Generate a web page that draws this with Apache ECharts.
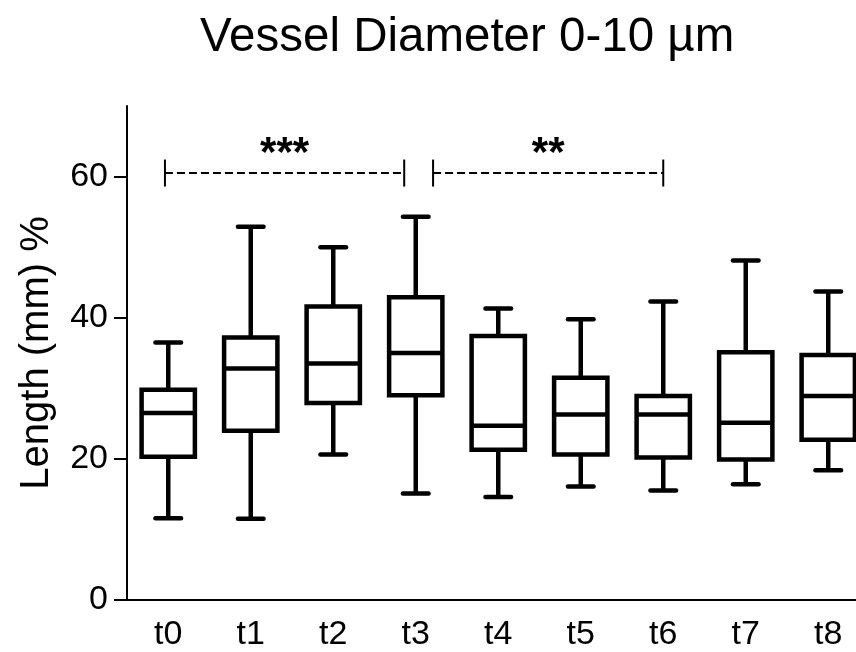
<!DOCTYPE html>
<html><head><meta charset="utf-8">
<script src="https://cdn.jsdelivr.net/npm/echarts@6/dist/echarts.min.js"></script>
<style>html,body{margin:0;padding:0;background:#fff}#c{width:856px;height:652px}</style>
</head><body><div id="c"></div>
<script>
const categories = ['t0','t1','t2','t3','t4','t5','t6','t7','t8'];
const whiskerLow  = [11.6, 11.5, 20.6, 15.1, 14.6, 16.1, 15.5, 16.4, 18.4];
const q1          = [20.3, 24.0, 27.9, 29.0, 21.3, 20.6, 20.2, 19.9, 22.7];
const median      = [26.5, 32.8, 33.5, 35.0, 24.7, 26.3, 26.3, 25.1, 28.9];
const q3          = [29.8, 37.2, 41.6, 42.9, 37.4, 31.5, 28.9, 35.1, 34.7];
const whiskerHigh = [36.5, 52.9, 50.0, 54.3, 41.3, 39.8, 42.3, 48.1, 43.7];
const yTicks = [0, 20, 40, 60];
const bracketStart = [-0.04, 3.21];
const bracketEnd   = [2.86, 6.0];
const bracketLevel = [60.5, 60.5];
const bracketLabel = ['***', '**'];

const FONT = "'Liberation Sans', Arial, sans-serif";
const chart = echarts.init(document.getElementById('c'), null, {renderer: 'canvas'});

const boxData = categories.map((c, i) => [i, whiskerLow[i], q1[i], median[i], q3[i], whiskerHigh[i]]);
const bracketData = bracketLevel.map((v, k) => [k, v]);

const LW = 4.5;
function boxRender(params, api) {
  const i = api.value(0);
  const band = api.size([1, 0])[0];
  const cx = api.coord([i, 0])[0];
  const y = k => api.coord([i, api.value(k)])[1];
  const hw = band * 0.323, cw = band * 0.155;
  const lo = y(1), a = y(2), m = y(3), b = y(4), hi = y(5);
  const st = {stroke: '#000', lineWidth: LW, lineCap: 'butt'};
  const rd = {stroke: '#000', lineWidth: LW, lineCap: 'round'};
  return {type: 'group', children: [
    {type: 'line', shape: {x1: cx, y1: hi, x2: cx, y2: b}, style: st},
    {type: 'line', shape: {x1: cx, y1: a, x2: cx, y2: lo}, style: st},
    {type: 'line', shape: {x1: cx - cw, y1: hi, x2: cx + cw, y2: hi}, style: rd},
    {type: 'line', shape: {x1: cx - cw, y1: lo, x2: cx + cw, y2: lo}, style: rd},
    {type: 'rect', shape: {x: cx - hw, y: b, width: 2 * hw, height: a - b}, style: {fill: 'none', stroke: '#000', lineWidth: LW}},
    {type: 'line', shape: {x1: cx - hw, y1: m, x2: cx + hw, y2: m}, style: st}
  ]};
}

function bracketRender(params, api) {
  const k = params.dataIndex;
  const band = api.size([1, 0])[0];
  const p0 = api.coord([0, bracketLevel[k]]);
  const xs = p0[0] + bracketStart[k] * band;
  const xe = p0[0] + bracketEnd[k] * band;
  const yy = p0[1];
  const st = {stroke: '#000', lineWidth: 2};
  return {type: 'group', children: [
    {type: 'line', shape: {x1: xs, y1: yy, x2: xe, y2: yy}, style: {stroke: '#000', lineWidth: 2, lineDash: [8, 4]}},
    {type: 'line', shape: {x1: xs, y1: yy - 13.5, x2: xs, y2: yy + 13.5}, style: st},
    {type: 'line', shape: {x1: xe, y1: yy - 13.5, x2: xe, y2: yy + 13.5}, style: st},
    {type: 'text', style: {text: bracketLabel[k], x: (xs + xe) / 2, y: yy - 19,
      fontFamily: FONT, fontSize: 42, fontWeight: 'bold', fill: '#000',
      align: 'center', verticalAlign: 'middle', textAlign: 'center', textVerticalAlign: 'middle'}}
  ]};
}

chart.setOption({
  animation: false,
  backgroundColor: '#fff',
  title: {
    text: 'Vessel Diameter 0-10 µm', left: 200, top: 14, padding: 0,
    textStyle: {fontFamily: FONT, fontSize: 47.5, fontWeight: 'normal', color: '#000'}
  },
  grid: {left: 127, top: 106, width: 742.5, height: 494, containLabel: false, outerBoundsMode: 'none'},
  xAxis: {
    type: 'category', data: categories, boundaryGap: true,
    axisLine: {lineStyle: {color: '#000', width: 2}},
    axisTick: {alignWithLabel: true, length: 14, lineStyle: {color: '#000', width: 2}},
    axisLabel: {fontFamily: FONT, fontSize: 34, color: '#000', margin: 18},
    splitLine: {show: false}
  },
  yAxis: {
    type: 'value', min: 0, max: 70, interval: 20,
    name: 'Length (mm) %', nameLocation: 'middle', nameGap: 70,
    nameTextStyle: {fontFamily: FONT, fontSize: 40, color: '#000'},
    axisLine: {show: true, lineStyle: {color: '#000', width: 2}},
    axisTick: {show: true, length: 13, lineStyle: {color: '#000', width: 2}, customValues: yTicks},
    axisLabel: {fontFamily: FONT, fontSize: 34, color: '#000', margin: 19, customValues: yTicks},
    splitLine: {show: false}
  },
  series: [
    {type: 'custom', renderItem: boxRender, data: boxData, encode: {x: 0, y: [1, 2, 3, 4, 5]}, clip: false},
    {type: 'custom', renderItem: bracketRender, data: bracketData, encode: {x: 0, y: 1}, clip: false}
  ]
});
</script></body></html>
